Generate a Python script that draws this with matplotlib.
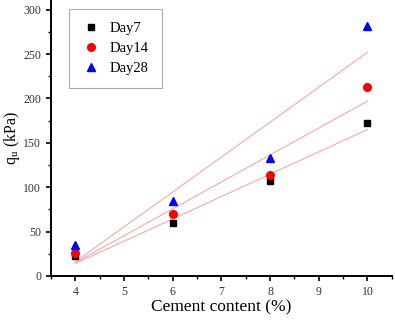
import matplotlib
matplotlib.use("Agg")
import matplotlib.pyplot as plt
from matplotlib.ticker import MultipleLocator

cement = [4, 6, 8, 10]
day7 = [23, 60, 107, 172]
day14 = [26, 70, 114, 213]
day28 = [35, 84, 133, 282]

# fitted lines (at both ends)
fit_x = [4.0, 10.0]
fit7 = [14, 165]
fit14 = [15, 197]
fit28 = [16, 252]

plt.rcParams['font.family'] = ['Liberation Serif', 'DejaVu Serif']

fig = plt.figure(figsize=(3.95, 3.2), dpi=100)
ax = fig.add_axes([0.129, 0.1375, 0.863, 0.86])

fit_color = '#f6a8a8'
for fy in (fit7, fit14, fit28):
    ax.plot(fit_x, fy, color=fit_color, lw=0.8, zorder=1)

ax.plot(cement, day7, 's', color='black', ms=5, label='Day7', zorder=3)
ax.plot(cement, day14, 'o', color='red', ms=5.5, label='Day14', zorder=3)
ax.plot(cement, day28, '^', color='blue', ms=5.5, label='Day28', zorder=3)

ax.set_xlim(3.5, 10.5)
ax.set_ylim(0, 310)
ax.xaxis.set_major_locator(MultipleLocator(1))
ax.xaxis.set_minor_locator(MultipleLocator(0.5))
ax.yaxis.set_major_locator(MultipleLocator(50))
ax.yaxis.set_minor_locator(MultipleLocator(25))
ax.set_xticks([4, 5, 6, 7, 8, 9, 10])

for s in ('top', 'right'):
    ax.spines[s].set_visible(False)
for s in ('left', 'bottom'):
    ax.spines[s].set_linewidth(1.4)

ax.tick_params(which='major', direction='out', length=3.5, width=1.2,
               labelsize=8.5, colors='black', labelcolor='#333333')
ax.tick_params(which='minor', direction='out', length=2, width=1.0)

ax.set_xlabel('Cement content (%)', fontsize=12.5, labelpad=1)
ax.set_ylabel(r'$\mathregular{q_u}$ (kPa)', fontsize=11.5, labelpad=1)

leg = ax.legend(loc='upper left', bbox_to_anchor=(0.053, 0.97), borderaxespad=0,
                fontsize=10.5, frameon=True, fancybox=False, edgecolor='#999999',
                handletextpad=0.7, borderpad=0.9, labelspacing=0.45,
                handlelength=1.2)
leg.get_frame().set_linewidth(0.8)

fig.savefig('out.png', dpi=100)
